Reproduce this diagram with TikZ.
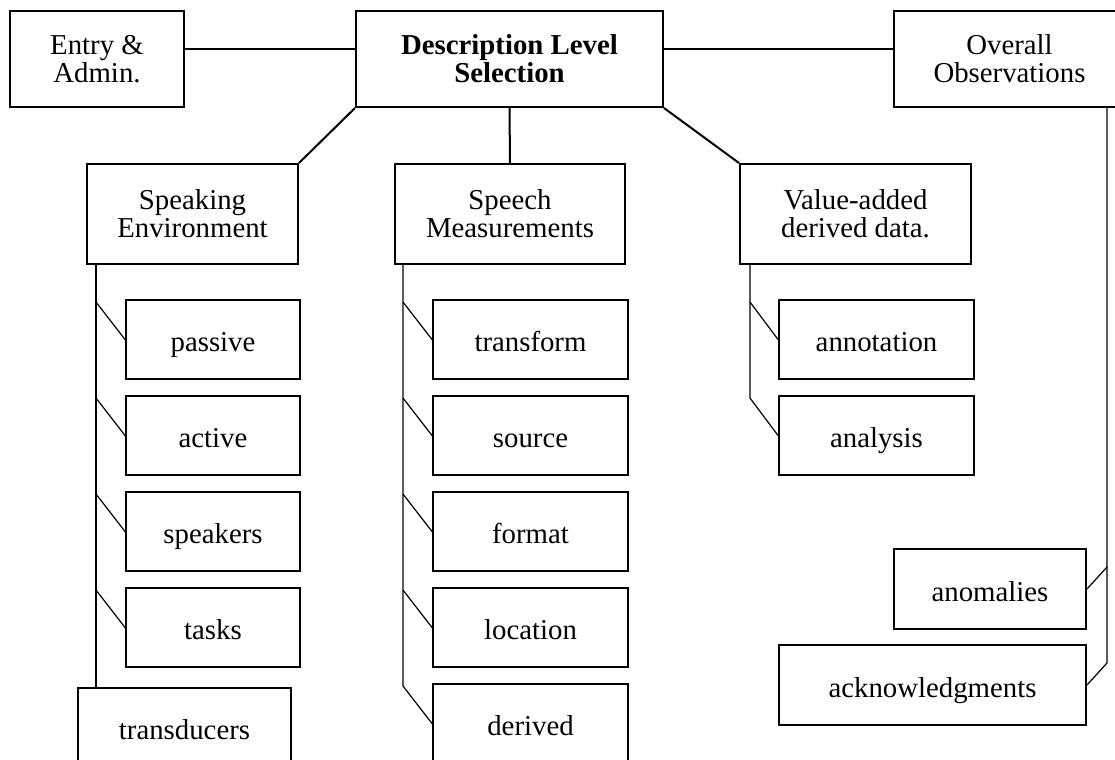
\documentclass[tikz,border=0pt]{standalone}
\usepackage{fontspec}
\setmainfont{Liberation Serif}

\begin{document}
\begin{tikzpicture}[x=0.5pt, y=-0.5pt, font=\fontsize{14.4}{14}\selectfont,
  box/.style={draw, line width=1pt, align=center, inner sep=0pt},
  sub/.style={box, minimum height=39.5pt, text height=12.2pt, text depth=0.2pt},
  link/.style={line width=1pt},
  twig/.style={line width=0.6pt}]
  \useasboundingbox (0,0) rectangle (1115,760);

  % Livello superiore
  \node[box, minimum width=87pt, minimum height=48pt] (entry) at (97,59) {Entry \&\\Admin.};
  \node[box, minimum width=153.5pt, minimum height=48pt, font=\fontsize{14.4}{14}\selectfont\bfseries] (dls) at (509.5,59) {Description Level\\Selection};
  \node[box, minimum width=115.5pt, minimum height=48pt] (overall) at (1009.5,59) {Overall\\Observations};

  % Livello intermedio
  \node[box, minimum width=105.5pt, minimum height=50pt] (spkenv) at (192.5,214) {Speaking\\Environment};
  \node[box, minimum width=115pt, minimum height=50pt] (speech) at (510,214) {Speech\\Measurements};
  \node[box, minimum width=115.5pt, minimum height=50pt] (value) at (855.5,214) {Value-added\\derived data.};

  % Foglie: ambiente
  \node[sub, minimum width=87pt] (passive) at (213,339.5) {passive};
  \node[sub, minimum width=87pt] (active) at (213,435.5) {active};
  \node[sub, minimum width=87pt] (speakers) at (213,531.5) {speakers};
  \node[sub, minimum width=87pt] (tasks) at (213,627.5) {tasks};
  \node[sub, minimum width=106.5pt] (transducers) at (184.5,727.5) {transducers};

  % Foglie: misure
  \node[sub, minimum width=97.5pt] (transform) at (530.5,339.5) {transform};
  \node[sub, minimum width=97.5pt] (source) at (530.5,435.5) {source};
  \node[sub, minimum width=97.5pt] (format) at (530.5,531.5) {format};
  \node[sub, minimum width=97.5pt] (location) at (530.5,627.5) {location};
  \node[sub, minimum width=97.5pt] (derived) at (530.5,723.5) {derived};

  % Foglie: dati derivati
  \node[sub, minimum width=97.5pt] (annotation) at (876.5,339.5) {annotation};
  \node[sub, minimum width=97.5pt] (analysis) at (876.5,435.5) {analysis};

  % Foglie: osservazioni
  \node[sub, minimum width=96pt, minimum height=40pt] (anomalies) at (990,589) {anomalies};
  \node[sub, minimum width=153.5pt, minimum height=40pt] (ack) at (932.5,685) {acknowledgments};

  % Collegamenti principali
  \draw[link] ([yshift=5pt]entry.east) -- ([yshift=5pt]dls.west);
  \draw[link] ([yshift=5pt]dls.east) -- ([yshift=5pt]overall.west);
  \draw[link] (dls.south west) -- (spkenv.north east);
  \draw[link] (dls.south) -- (speech.north);
  \draw[link] (dls.south east) -- (value.north west);

  % Tronco dell'ambiente
  \draw[twig] ([xshift=5pt]spkenv.south west) -- ([xshift=5pt]spkenv.south west |- transducers.north);
  \draw[twig] ([shift={(-14.5pt,-1.5pt)}]passive.north west) -- (passive.west);
  \draw[twig] ([shift={(-14.5pt,-1.5pt)}]active.north west) -- (active.west);
  \draw[twig] ([shift={(-14.5pt,-1.5pt)}]speakers.north west) -- (speakers.west);
  \draw[twig] ([shift={(-14.5pt,-1.5pt)}]tasks.north west) -- (tasks.west);

  % Tronco delle misure
  \draw[twig] ([xshift=4.5pt]speech.south west) -- ([shift={(-14.5pt,-1.5pt)}]derived.north west) -- (derived.west);
  \draw[twig] ([shift={(-14.5pt,-1.5pt)}]transform.north west) -- (transform.west);
  \draw[twig] ([shift={(-14.5pt,-1.5pt)}]source.north west) -- (source.west);
  \draw[twig] ([shift={(-14.5pt,-1.5pt)}]format.north west) -- (format.west);
  \draw[twig] ([shift={(-14.5pt,-1.5pt)}]location.north west) -- (location.west);

  % Tronco dei dati derivati
  \draw[twig] ([xshift=5.5pt]value.south west) -- ([shift={(-14pt,-1.5pt)}]analysis.north west) -- (analysis.west);
  \draw[twig] ([shift={(-14pt,-1.5pt)}]annotation.north west) -- (annotation.west);

  % Tronco delle osservazioni
  \coordinate (ack-j) at ([shift={(10pt,-9.5pt)}]ack.north east);
  \draw[twig] (overall.south -| ack-j) -- (ack-j) -- (ack.east);
  \draw[twig] ([shift={(10pt,-9.5pt)}]anomalies.north east) -- (anomalies.east);
\end{tikzpicture}
\end{document}
